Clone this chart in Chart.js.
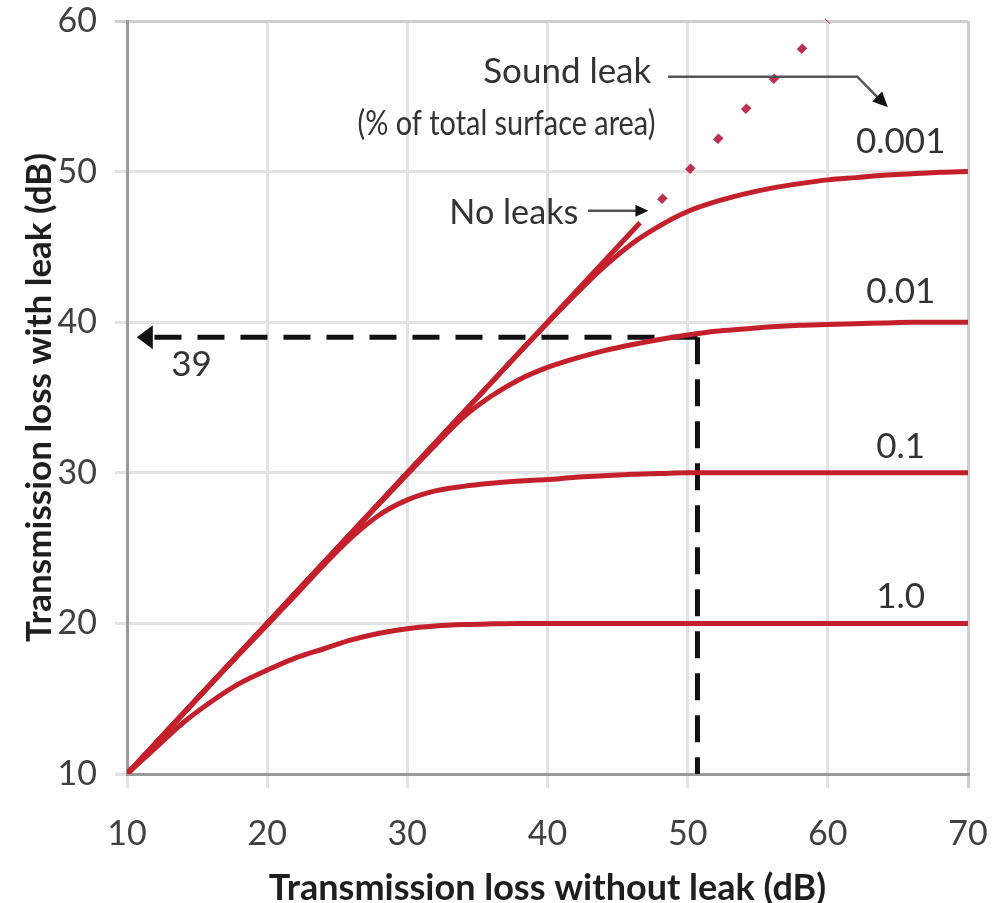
<!DOCTYPE html>
<html>
<head>
<meta charset="utf-8">
<title>Transmission loss with sound leaks</title>
<script src="https://cdn.jsdelivr.net/npm/chart.js@4.4.1/dist/chart.umd.min.js"></script>
<style>
  html, body { margin: 0; padding: 0; background: #fff; }
  #wrap { width: 1004px; height: 903px; }
</style>
</head>
<body>
<div id="wrap"><canvas id="tlChart" width="1004" height="903"></canvas></div>
<script>
'use strict';

// transmission loss of the panel without any leak (dB)
var tlWithout = [10, 12, 14, 16, 18, 20, 22, 24, 26, 28, 30, 32, 34, 36, 38, 40,
                 42, 44, 46, 48, 50, 52, 54, 56, 58, 60, 62, 64, 66, 68, 70];

// transmission loss with a leak (dB), one list per leak size
var leak0001 = [10, 12, 14, 16, 18, 20, 22, 24, 26, 28, 30, 32, 34, 36, 38, 39.95,
                41.85, 43.65, 45.2, 46.4, 47.35, 48.0, 48.5, 48.9, 49.2, 49.45, 49.6, 49.75, 49.85, 49.95, 50];
var leak001 = [10, 12, 14, 16, 18, 20, 22, 24, 26, 27.95, 29.9, 31.85, 33.7, 35.1, 36.2, 37.0,
               37.6, 38.1, 38.5, 38.85, 39.15, 39.4, 39.55, 39.7, 39.8, 39.85, 39.9, 39.95, 40, 40, 40];
var leak01 = [10, 12, 14, 16, 17.95, 19.9, 21.85, 23.85, 25.7, 27.2, 28.2, 28.8, 29.1, 29.3, 29.45, 29.55,
              29.7, 29.8, 29.9, 29.95, 30, 30, 30, 30, 30, 30, 30, 30, 30, 30, 30];
var leak1 = [10, 11.7, 13.4, 14.8, 16.0, 16.9, 17.7, 18.3, 18.9, 19.35, 19.65, 19.82, 19.92, 19.97, 20, 20,
             20, 20, 20, 20, 20, 20, 20, 20, 20, 20, 20, 20, 20, 20, 20];

// no-leak line: solid part, then dotted beyond the curves
var noLeakSolid = [10, 46.6];
var noLeakDotted = [48, 60];

// worked example on the 0.01 curve
var exampleTl = 50.7;
var exampleResult = 39;

var leakLabels = ['0.001', '0.01', '0.1', '1.0'];
var xTicks = [10, 20, 30, 40, 50, 60, 70];
var yTicks = [10, 20, 30, 40, 50, 60];

var RED = '#c4202c';
var FONT = 'Lato, "Open Sans", sans-serif';

function pts(xs, ys) {
  return xs.map(function(v, i) { return {x: v, y: ys[i]}; });
}

function curve(data) {
  return {
    data: data,
    borderColor: RED,
    borderWidth: 5,
    pointRadius: 0,
    showLine: true,
    cubicInterpolationMode: 'monotone'
  };
}

function arrowHead(ctx, tipX, tipY, angle, len, half) {
  ctx.save();
  ctx.translate(tipX, tipY);
  ctx.rotate(angle);
  ctx.beginPath();
  ctx.moveTo(0, 0);
  ctx.lineTo(-len, -half);
  ctx.lineTo(-len, half);
  ctx.closePath();
  ctx.fill();
  ctx.restore();
}

// text labels and leader arrows
var notesPlugin = {
  id: 'notes',
  afterDatasetsDraw: function(chart) {
    var ctx = chart.ctx;
    var x = chart.scales.x, y = chart.scales.y;
    function px(v) { return x.getPixelForValue(v); }
    function py(v) { return y.getPixelForValue(v); }

    ctx.save();
    ctx.font = '35px ' + FONT;
    ctx.fillStyle = '#333';
    ctx.textBaseline = 'middle';

    ctx.textAlign = 'right';
    ctx.fillText('Sound leak', px(47.4), py(56.6), 168);
    ctx.fillText('(% of total surface area)', px(47.7), py(53.2), 298);
    ctx.fillText('No leaks', px(42.2), py(47.3), 129);

    ctx.textAlign = 'center';
    var labelY = [52.0, 42.0, 31.7, 21.8];
    leakLabels.forEach(function(t, i) {
      ctx.fillText(t, px(65.2), py(labelY[i]));
    });
    ctx.fillText(String(exampleResult), px(14.6), py(37.2));

    // leader from "Sound leak" down to the 0.001 curve
    ctx.strokeStyle = '#555';
    ctx.lineWidth = 2.5;
    ctx.beginPath();
    ctx.moveTo(px(48.6), py(56.3));
    ctx.lineTo(px(62.1), py(56.3));
    ctx.lineTo(px(64.0), py(54.5));
    ctx.stroke();
    ctx.fillStyle = '#111';
    var ang = Math.atan2(py(54.28) - py(56.3), px(64.28) - px(62.1));
    arrowHead(ctx, px(64.28), py(54.28), ang, 15, 7);

    // leader to the no-leak line
    ctx.beginPath();
    ctx.moveTo(px(42.9), py(47.4));
    ctx.lineTo(px(46.6), py(47.4));
    ctx.stroke();
    arrowHead(ctx, px(47.2), py(47.4), 0, 13, 6);

    // head of the dashed read-off arrow
    arrowHead(ctx, px(10.7), py(exampleResult), Math.PI, 16, 12);
    ctx.restore();
  }
};

var ctx = document.getElementById('tlChart').getContext('2d');

var chart = new Chart(ctx, {
  type: 'scatter',
  data: {
    datasets: [
      curve(pts(tlWithout, leak1)),
      curve(pts(tlWithout, leak01)),
      curve(pts(tlWithout, leak001)),
      curve(pts(tlWithout, leak0001)),
      curve(pts(noLeakSolid, noLeakSolid)),
      {
        data: pts(noLeakDotted, noLeakDotted),
        borderColor: '#bd3050',
        borderWidth: 7,
        borderDash: [8, 33],
        pointRadius: 0,
        showLine: true,
        clip: 8
      },
      {
        data: [{x: exampleTl, y: exampleResult}, {x: 11.9, y: exampleResult}],
        borderColor: '#111',
        borderWidth: 5,
        borderDash: [27, 16],
        pointRadius: 0,
        showLine: true
      },
      {
        data: [{x: exampleTl, y: exampleResult}, {x: exampleTl, y: 10}],
        borderColor: '#111',
        borderWidth: 5,
        borderDash: [27, 15],
        pointRadius: 0,
        showLine: true
      }
    ]
  },
  options: {
    responsive: false,
    animation: false,
    layout: { padding: { top: 21, right: 36, left: 0, bottom: 0 } },
    plugins: {
      legend: { display: false },
      tooltip: { enabled: false }
    },
    scales: {
      x: {
        type: 'linear',
        min: 10,
        max: 70,
        afterBuildTicks: function(axis) {
          axis.ticks = xTicks.map(function(v) { return {value: v}; });
        },
        afterFit: function(axis) {
          axis.height = 129;
          axis.paddingLeft = 0;
          axis.paddingRight = 0;
        },
        grid: {
          color: function(c) { return c.tick && c.tick.value === 70 ? '#cfcfcf' : '#e3e3e3'; },
          lineWidth: 3,
          tickLength: 14
        },
        border: { color: '#9a9a9a', width: 3 },
        ticks: {
          font: { family: FONT, size: 34 },
          color: '#404040',
          padding: 26,
          maxRotation: 0
        },
        title: {
          display: true,
          text: 'Transmission loss without leak (dB)',
          font: { family: FONT, size: 36, weight: 'bold', lineHeight: 1 },
          color: '#1e1e1e',
          padding: { top: 0, bottom: -3 }
        }
      },
      y: {
        type: 'linear',
        min: 10,
        max: 60,
        afterBuildTicks: function(axis) {
          axis.ticks = yTicks.map(function(v) { return {value: v}; });
        },
        afterFit: function(axis) {
          axis.width = 127;
          axis.paddingTop = 0;
          axis.paddingBottom = 0;
        },
        grid: {
          color: function(c) { return c.tick && c.tick.value === 60 ? '#cfcfcf' : '#e3e3e3'; },
          lineWidth: 3,
          tickLength: 12
        },
        border: { color: '#9a9a9a', width: 3 },
        ticks: {
          font: { family: FONT, size: 34 },
          color: '#404040',
          padding: 18
        },
        title: {
          display: true,
          text: 'Transmission loss with leak (dB)',
          font: { family: FONT, size: 35, weight: 'bold', lineHeight: 1 },
          color: '#1e1e1e',
          padding: { top: 22, bottom: 0 }
        }
      }
    }
  },
  plugins: [notesPlugin]
});
</script>
</body>
</html>
